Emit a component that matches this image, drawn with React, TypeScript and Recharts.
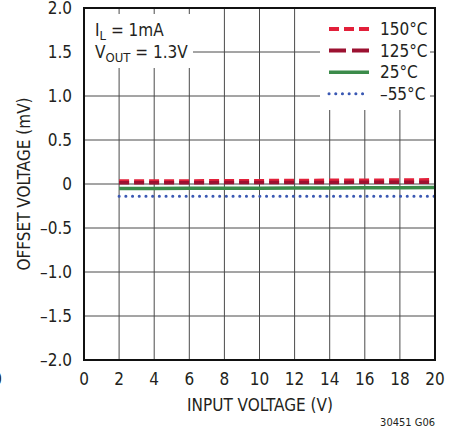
import React from 'react';
import { CartesianGrid, Line, LineChart, XAxis, YAxis } from 'recharts';

const inputVoltage = [2, 4, 6, 8, 10, 12, 14, 16, 18, 20];
const offset150 = [0.03, 0.03, 0.032, 0.034, 0.035, 0.037, 0.039, 0.04, 0.042, 0.045];
const offset125 = [0.015, 0.015, 0.015, 0.016, 0.017, 0.017, 0.018, 0.019, 0.02, 0.02];
const offset25 = [-0.05, -0.05, -0.049, -0.048, -0.047, -0.046, -0.045, -0.044, -0.042, -0.04];
const offsetM55 = [-0.14, -0.14, -0.14, -0.14, -0.14, -0.14, -0.14, -0.14, -0.14, -0.14];

const xTicks = [0, 2, 4, 6, 8, 10, 12, 14, 16, 18, 20];
const yTicks = [-2, -1.5, -1, -0.5, 0, 0.5, 1, 1.5, 2];

const legendItems = [
  { label: '150°C', color: '#e2203a', dash: '10 5', width: 4 },
  { label: '125°C', color: '#9c1131', dash: '17 6', width: 4 },
  { label: '25°C', color: '#3b8b4a', dash: undefined, width: 3.5 },
  { label: '–55°C', color: '#3a58b3', dash: '0.1 6.6', width: 3 },
];

const data = inputVoltage.map((v, i) => ({
  v,
  t150: offset150[i],
  t125: offset125[i],
  t25: offset25[i],
  tm55: offsetM55[i],
}));

const FONT = "'Liberation Sans Narrow', 'DejaVu Sans Condensed', 'Liberation Sans', sans-serif";
const TEXT = '#231f20';

const fmtY = (v: number) => (v === 0 ? '0' : (v < 0 ? '–' : '') + Math.abs(v).toFixed(1));

const YTick = (props: any) => (
  <text x={72} y={props.y} textAnchor="end" dominantBaseline="central" fontSize={17} fill={TEXT} fontFamily={FONT}>
    {fmtY(props.payload.value)}
  </text>
);

const XTick = (props: any) => (
  <text x={props.x} y={379} textAnchor="middle" dominantBaseline="central" fontSize={17} fill={TEXT} fontFamily={FONT}>
    {props.payload.value}
  </text>
);

export default function App() {
  return (
    <div style={{ position: 'absolute', left: 0, top: 0, width: 460, height: 429, background: '#fff' }}>
      <LineChart width={460} height={429} data={data} margin={{ top: 8, right: 25, bottom: 0, left: 0 }}>
        <CartesianGrid stroke="#4a4a4a" strokeWidth={1} verticalValues={xTicks} horizontalValues={yTicks} />
        <XAxis dataKey="v" type="number" domain={[0, 20]} ticks={xTicks} height={69} axisLine={false} tickLine={false} tick={<XTick />} interval={0} />
        <YAxis type="number" domain={[-2, 2]} ticks={yTicks} width={84} axisLine={false} tickLine={false} tick={<YTick />} interval={0} />
        <Line dataKey="t150" stroke={legendItems[0].color} strokeWidth={4} strokeDasharray="10 5" dot={false} isAnimationActive={false} />
        <Line dataKey="t125" stroke={legendItems[1].color} strokeWidth={3.5} strokeDasharray="10 5" dot={false} isAnimationActive={false} />
        <Line dataKey="t25" stroke={legendItems[2].color} strokeWidth={3.5} dot={false} isAnimationActive={false} />
        <Line dataKey="tm55" stroke={legendItems[3].color} strokeWidth={3} strokeDasharray="0.1 6.6" strokeLinecap="round" dot={false} isAnimationActive={false} />
      </LineChart>
      <svg width={460} height={429} style={{ position: 'absolute', left: 0, top: 0, pointerEvents: 'none' }} fontFamily={FONT}>
        <rect x={85} y={14} width={108} height={54} fill="#fff" />
        <text x={95} y={30} fontSize={17} fill={TEXT} dominantBaseline="central">
          I<tspan fontSize={13} dy={5}>L</tspan>
          <tspan dy={-5}> = 1mA</tspan>
        </text>
        <text x={95} y={52} fontSize={17} fill={TEXT} dominantBaseline="central">
          V<tspan fontSize={13} dy={5}>OUT</tspan>
          <tspan dy={-5}> = 1.3V</tspan>
        </text>
        <rect x={320} y={9} width={110} height={101} fill="#fff" />
        {legendItems.map((it, i) => {
          const y = 29 + i * 21.6;
          return (
            <g key={it.label}>
              <line x1={329} x2={369} y1={y} y2={y} stroke={it.color} strokeWidth={it.width}
                strokeDasharray={it.dash} strokeLinecap={it.label === '–55°C' ? 'round' : 'butt'} />
              <text x={380} y={y} fontSize={17} fill={TEXT} dominantBaseline="central">{it.label}</text>
            </g>
          );
        })}
        <rect x={84} y={8} width={351} height={352} fill="none" stroke="#111" strokeWidth={2} />
        <text x={260} y={405} textAnchor="middle" dominantBaseline="central" fontSize={17} fill={TEXT}>INPUT VOLTAGE (V)</text>
        <text transform="translate(24,184) rotate(-90)" textAnchor="middle" dominantBaseline="central" fontSize={17} fill={TEXT}>OFFSET VOLTAGE (mV)</text>
        <text x={435} y={422} textAnchor="end" dominantBaseline="central" fontSize={11} fill={TEXT}>30451 G06</text>
        <text x={2} y={379} textAnchor="end" dominantBaseline="central" fontSize={17} fill={TEXT}>0</text>
      </svg>
    </div>
  );
}
